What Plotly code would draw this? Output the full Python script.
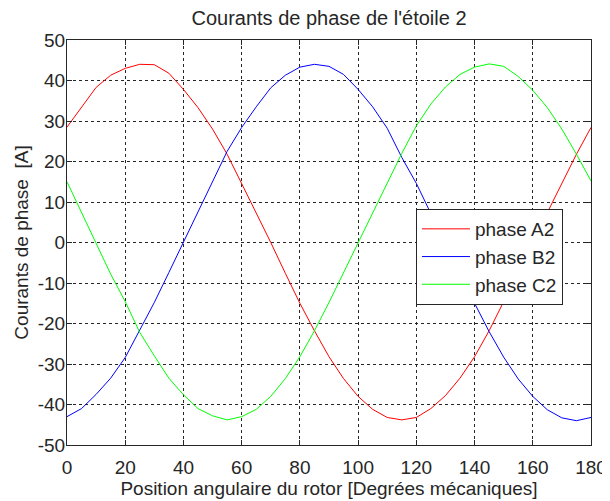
import plotly.graph_objects as go

position_deg = [0, 5, 10, 15, 20, 25, 30, 35, 40, 45, 50, 55, 60, 65, 70, 75, 80, 85, 90,
                95, 100, 105, 110, 115, 120, 125, 130, 135, 140, 145, 150, 155, 160, 165,
                170, 175, 180]

phase_a2 = [28.5, 33.5, 38.3, 41.3, 43.0, 44.0, 43.9, 41.8, 37.8, 33.3, 28.0, 21.8, 14.6,
            7.4, 0.0, -7.6, -15.0, -21.8, -28.2, -33.6, -38.0, -41.2, -43.2, -43.8, -43.2,
            -41.0, -37.8, -33.5, -28.2, -21.8, -14.8, -7.4, 0.2, 7.4, 14.8, 21.8, 28.4]

phase_b2 = [-43.0, -41.0, -37.5, -33.5, -28.4, -21.5, -14.8, -7.4, 0.0, 7.5, 15.0, 22.5,
            28.4, 33.5, 38.2, 41.3, 43.3, 44.0, 43.5, 41.5, 37.8, 33.5, 28.2, 21.0, 14.6,
            7.0, -0.5, -7.8, -15.0, -22.0, -28.3, -33.7, -38.0, -41.3, -43.3, -44.0, -43.2]

phase_c2 = [15.0, 7.5, 0.0, -7.8, -14.6, -22.2, -28.0, -33.5, -37.6, -41.0, -42.8, -43.8,
            -43.0, -41.2, -38.0, -33.6, -28.2, -21.8, -14.8, -7.4, 0.0, 7.5, 15.0, 22.0,
            28.8, 34.2, 38.4, 41.5, 43.3, 44.1, 43.5, 41.0, 37.6, 33.3, 28.0, 21.8, 15.2]

x_ticks = [0, 20, 40, 60, 80, 100, 120, 140, 160, 180]
y_ticks = [-50, -40, -30, -20, -10, 0, 10, 20, 30, 40, 50]
y_tick_labels = ["-50", "-40", "-30", "-20", "-10", "0", "10", "20", "30", "40", "50"]

FONT = "Liberation Sans, Arial, sans-serif"
INK = "#262626"

# the page body has an 8px default margin; the figure is sized to fill the rest
W, H = 602, 493

fig = go.Figure()
fig.add_trace(go.Scatter(x=position_deg, y=phase_a2, mode="lines", name="phase A2",
                         line=dict(color="#ff0000", width=1)))
fig.add_trace(go.Scatter(x=position_deg, y=phase_b2, mode="lines", name="phase B2",
                         line=dict(color="#0000ff", width=1)))
fig.add_trace(go.Scatter(x=position_deg, y=phase_c2, mode="lines", name="phase C2",
                         line=dict(color="#00ff00", width=1)))

axis_common = dict(
    showline=True, linecolor=INK, linewidth=1, mirror="ticks",
    ticks="inside", ticklen=5, tickcolor=INK,
    showgrid=True, gridcolor=INK, gridwidth=1, griddash="3px,3px",
    zeroline=False, automargin=False,
    tickfont=dict(family=FONT, size=19, color=INK),
)

fig.update_layout(
    width=W, height=H,
    margin=dict(l=59, r=19, t=32, b=56),
    paper_bgcolor="white", plot_bgcolor="white",
    font=dict(family=FONT, size=19, color=INK),
    title=dict(text="Courants de phase de l'étoile 2", x=321 / W, xanchor="center",
               y=1 - 10 / H, yref="container", yanchor="middle",
               font=dict(family=FONT, size=20, color=INK)),
    xaxis=dict(range=[0, 180], tickvals=x_ticks, ticklabelstandoff=5,
               title=dict(text="Position angulaire du rotor [Degrées mécaniques]",
                          standoff=1, font=dict(family=FONT, size=19)),
               **axis_common),
    yaxis=dict(range=[-50, 50], tickvals=y_ticks, ticktext=y_tick_labels,
               ticklabelstandoff=-3,
               title=dict(text="Courants de phase  [A]", standoff=4,
                          font=dict(family=FONT, size=19)),
               **axis_common),
    legend=dict(x=0.666, y=(445 - 257) / 405, xanchor="left", yanchor="middle",
                bgcolor="white", bordercolor=INK, borderwidth=1,
                font=dict(family=FONT, size=19, color=INK),
                itemwidth=48, tracegroupgap=0),
    showlegend=True,
)

fig.write_html("out.html")
